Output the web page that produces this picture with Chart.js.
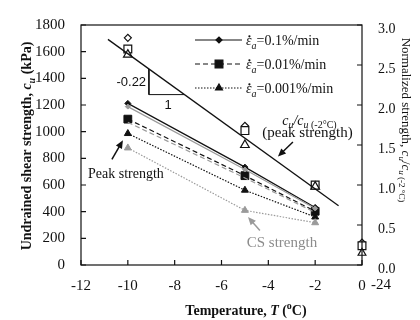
<!DOCTYPE html>
<html>
<head>
<meta charset="utf-8">
<script src="https://cdn.jsdelivr.net/npm/chart.js@4.4.0/dist/chart.umd.min.js"></script>
<style>
  html, body { margin: 0; padding: 0; background: #fff; }
  #wrap { width: 420px; height: 320px; }
</style>
</head>
<body>
<div id="wrap"><canvas id="chart"></canvas></div>
<script>
// --- Data ---
const temps = [-10, -5, -2];

// peak undrained strength cu (kPa), one list per strain rate
const peak01 = [1212, 734, 432];
const peak001 = [1094, 670, 403];
const peak0001 = [986, 561, 360];

// critical state strength (grey)
const cs01 = [1188, 716, 424];
const cs001 = [1070, 653, 394];
const cs0001 = [878, 410, 317];

// normalized peak strength cu / cu(-2C), right axis
const norm01 = [2.84, 1.74, 1.0];
const norm001 = [2.70, 1.68, 1.0];
const norm0001 = [2.63, 1.50, 0.98];

// -24C tests, drawn at the axis break on the right edge
const farTemp = [0];
const far01 = [0.28];
const far001 = [0.24];
const far0001 = [0.15];

// fitted line through normalized data + slope triangle
const trendT = [-10.85, -1.0];
const trendY = [2.82, 0.74];
const slopeT = [-9.1, -9.1, -7.6];
const slopeY = [2.45, 2.13, 2.13];

// tick labels
const xTicks = [-12, -10, -8, -6, -4, -2, 0];
const cuTicks = [0, 200, 400, 600, 800, 1000, 1200, 1400, 1600, 1800];
const normTicks = [0, 0.5, 1.0, 1.5, 2.0, 2.5, 3.0];

const SERIF = "'Liberation Serif', 'DejaVu Serif', serif";
const SANS = "'Liberation Sans', Arial, sans-serif";
const GREY = '#9a9a9a';

Chart.defaults.font.family = SERIF;
Chart.defaults.color = '#111';

const pts = (xs, ys) => xs.map((x, i) => ({ x: x, y: ys[i] }));

function lineSet(ys, color, dash, style, radius, fill) {
    return {
        data: pts(temps, ys),
        yAxisID: 'y',
        showLine: true,
        borderColor: color,
        borderWidth: 1.2,
        borderDash: dash,
        pointStyle: style,
        pointRadius: radius,
        pointBackgroundColor: fill,
        pointBorderColor: fill,
        pointBorderWidth: 1
    };
}

function openSet(xs, ys, style, radius) {
    return {
        data: pts(xs, ys),
        yAxisID: 'y1',
        showLine: false,
        pointStyle: style,
        pointRadius: radius,
        pointBackgroundColor: '#fff',
        pointBorderColor: '#111',
        pointBorderWidth: 1.2,
        clip: false
    };
}

// mixed italic / subscript text, y = baseline
// flags: i italic, b bold, s subscript, S superscript, d dot above
function rich(ctx, parts, x, y, size, align, color) {
    const fontOf = (f, sz) => `${f.includes('i') ? 'italic ' : ''}${f.includes('b') ? 'bold ' : ''}${sz}px ${SERIF}`;
    let w = 0;
    const items = parts.map(([t, f = '']) => {
        const sz = (f.includes('s') || f.includes('S')) ? Math.round(size * 0.68) : size;
        ctx.font = fontOf(f, sz);
        const wd = ctx.measureText(t).width;
        w += wd;
        return { t, f, sz, wd };
    });
    let cx = align === 'center' ? x - w / 2 : align === 'right' ? x - w : x;
    ctx.textAlign = 'left';
    ctx.textBaseline = 'alphabetic';
    ctx.fillStyle = color || '#111';
    items.forEach(it => {
        ctx.font = fontOf(it.f, it.sz);
        const dy = it.f.includes('s') ? size * 0.25 : it.f.includes('S') ? -size * 0.4 : 0;
        ctx.fillText(it.t, cx, y + dy);
        if (it.f.includes('d')) {
            ctx.beginPath();
            ctx.arc(cx + it.wd * 0.62, y - size * 0.62, 1.1, 0, Math.PI * 2);
            ctx.fill();
        }
        cx += it.wd;
    });
}

function arrow(ctx, x1, y1, x2, y2, color) {
    const a = Math.atan2(y2 - y1, x2 - x1);
    ctx.save();
    ctx.strokeStyle = color;
    ctx.fillStyle = color;
    ctx.lineWidth = 1.5;
    ctx.setLineDash([]);
    ctx.beginPath();
    ctx.moveTo(x1, y1);
    ctx.lineTo(x2 - 5 * Math.cos(a), y2 - 5 * Math.sin(a));
    ctx.stroke();
    ctx.beginPath();
    ctx.moveTo(x2, y2);
    ctx.lineTo(x2 - 8 * Math.cos(a) + 3.5 * Math.sin(a), y2 - 8 * Math.sin(a) - 3.5 * Math.cos(a));
    ctx.lineTo(x2 - 8 * Math.cos(a) - 3.5 * Math.sin(a), y2 - 8 * Math.sin(a) + 3.5 * Math.cos(a));
    ctx.closePath();
    ctx.fill();
    ctx.restore();
}

// frame, inward ticks, legend, notes and axis titles
const decor = {
    id: 'decor',
    afterDraw(chart) {
        const ctx = chart.ctx;
        const { left, right, top, bottom } = chart.chartArea;
        const sx = chart.scales.x, sy = chart.scales.y, sn = chart.scales.y1;
        ctx.save();

        ctx.strokeStyle = '#111';
        ctx.lineWidth = 1.2;
        ctx.setLineDash([]);
        ctx.strokeRect(left, top, right - left, bottom - top);

        ctx.beginPath();
        xTicks.forEach(v => {
            const px = sx.getPixelForValue(v);
            ctx.moveTo(px, bottom); ctx.lineTo(px, bottom - 5);
        });
        cuTicks.forEach(v => {
            const py = sy.getPixelForValue(v);
            ctx.moveTo(left, py); ctx.lineTo(left + 5, py);
        });
        normTicks.forEach(v => {
            const py = sn.getPixelForValue(v);
            ctx.moveTo(right, py); ctx.lineTo(right - 5, py);
        });
        ctx.stroke();

        // "-24" label at the axis break
        ctx.font = `15px ${SERIF}`;
        ctx.fillStyle = '#111';
        ctx.textAlign = 'center';
        ctx.textBaseline = 'middle';
        ctx.fillText('-24', right + 19, bottom + 20);

        // legend
        const rows = [
            { rate: '=0.1%/min', dash: [], style: 'rectRot', r: 3 },
            { rate: '=0.01%/min', dash: [5, 3], style: 'rect', r: 5.5 },
            { rate: '=0.001%/min', dash: [1.5, 1.5], style: 'triangle', r: 4 }
        ];
        rows.forEach((row, i) => {
            const y = top + 15 + i * 24;
            ctx.strokeStyle = '#111';
            ctx.lineWidth = 1.2;
            ctx.setLineDash(row.dash);
            ctx.beginPath();
            ctx.moveTo(195, y); ctx.lineTo(242, y);
            ctx.stroke();
            ctx.setLineDash([]);
            ctx.fillStyle = '#111';
            Chart.helpers.drawPoint(ctx, { pointStyle: row.style, radius: row.r, rotation: 0, borderWidth: 1 }, 219, y);
            rich(ctx, [['\u03b5', 'id'], ['a', 'is'], [row.rate, '']], 246, y + 5, 14, 'left');
        });

        // slope notes
        ctx.font = `13px ${SANS}`;
        ctx.fillStyle = '#111';
        ctx.textBaseline = 'middle';
        ctx.textAlign = 'right';
        ctx.fillText('-0.22', sx.getPixelForValue(-9.22), sy.getPixelForValue(1368));
        ctx.textAlign = 'center';
        ctx.fillText('1', sx.getPixelForValue(-8.28), sy.getPixelForValue(1195));

        // normalized strength note
        const nx = sx.getPixelForValue(-2.33);
        rich(ctx, [['c', 'i'], ['u', 'is'], ['/', 'i'], ['c', 'i'], ['u', 'is'], [' (-2\u00b0C)', 's']], nx + 2, sy.getPixelForValue(1058) + 1, 14, 'center');
        rich(ctx, [['(peak strength)', '']], nx, sy.getPixelForValue(979) + 3, 15, 'center');
        arrow(ctx, sx.getPixelForValue(-2.95), sy.getPixelForValue(922), sx.getPixelForValue(-3.59), sy.getPixelForValue(814), '#111');

        rich(ctx, [['Peak strength', '']], sx.getPixelForValue(-10.08), sy.getPixelForValue(691) + 5, 14, 'center');
        arrow(ctx, sx.getPixelForValue(-10.68), sy.getPixelForValue(792), sx.getPixelForValue(-10.21), sy.getPixelForValue(936), '#111');

        rich(ctx, [['CS strength', '']], sx.getPixelForValue(-3.42), sy.getPixelForValue(173) + 5, 15, 'center', '#8c8c8c');
        arrow(ctx, sx.getPixelForValue(-4.36), sy.getPixelForValue(259), sx.getPixelForValue(-4.87), sy.getPixelForValue(360), GREY);

        // axis titles
        rich(ctx, [['Temperature, ', 'b'], ['T', 'bi'], [' (', 'b'], ['o', 'bS'], ['C)', 'b']], 246, 315, 14, 'center');

        ctx.save();
        ctx.translate(26, 146);
        ctx.rotate(-Math.PI / 2);
        rich(ctx, [['Undrained shear strength, ', 'b'], ['c', 'bi'], ['u', 'bis'], [' (kPa)', 'b']], 0, 5, 14, 'center');
        ctx.restore();

        ctx.save();
        ctx.translate(407, 120);
        ctx.rotate(Math.PI / 2);
        rich(ctx, [['Normalized strength, ', ''], ['c', 'i'], ['u', 'is'], ['/', ''], ['c', 'i'], ['u', 'is'], [' (-2 \u00b0C)', 's']], 0, 5, 13, 'center');
        ctx.restore();

        ctx.restore();
    }
};

const datasets = [
    lineSet(cs01, GREY, [], 'rectRot', 2.5, GREY),
    lineSet(cs001, GREY, [5, 3], 'rect', 0, GREY),
    lineSet(cs0001, GREY, [1.5, 1.5], 'triangle', 4, GREY),
    lineSet(peak01, '#111', [], 'rectRot', 3, '#111'),
    lineSet(peak001, '#111', [5, 3], 'rect', 5.5, '#111'),
    lineSet(peak0001, '#111', [1.5, 1.5], 'triangle', 4, '#111'),
    {
        data: pts(trendT, trendY), yAxisID: 'y1', showLine: true,
        borderColor: '#111', borderWidth: 1.3, pointRadius: 0
    },
    {
        data: pts(slopeT, slopeY), yAxisID: 'y1', showLine: true,
        borderColor: '#111', borderWidth: 1, pointRadius: 0
    },
    openSet(temps, norm0001, 'triangle', 5),
    openSet(temps, norm001, 'rect', 5.5),
    openSet(temps, norm01, 'rectRot', 3.5),
    openSet(farTemp, far0001, 'triangle', 4.5),
    openSet(farTemp, far001, 'rect', 5.5),
    openSet(farTemp, far01, 'rectRot', 3.5)
];

const hideGrid = { display: false, drawTicks: false };

new Chart(document.getElementById('chart'), {
    type: 'scatter',
    data: { datasets: datasets },
    options: {
        responsive: true,
        maintainAspectRatio: false,
        animation: false,
        layout: { padding: { top: 15, left: 0, right: 0, bottom: 0 } },
        plugins: { legend: { display: false }, tooltip: { enabled: false } },
        scales: {
            x: {
                type: 'linear', min: -12, max: 0,
                afterBuildTicks: s => { s.ticks = xTicks.map(v => ({ value: v })); },
                afterFit: s => { s.height = 55; },
                grid: hideGrid, border: { display: false },
                ticks: { padding: 12, font: { size: 15 }, color: '#111', callback: v => String(v) }
            },
            y: {
                position: 'left', min: 0, max: 1800,
                afterBuildTicks: s => { s.ticks = cuTicks.map(v => ({ value: v })); },
                afterFit: s => { s.width = 81; },
                grid: hideGrid, border: { display: false },
                ticks: { padding: 16, font: { size: 15 }, color: '#111', callback: v => String(v) }
            },
            y1: {
                position: 'right', min: 0, max: 3,
                afterBuildTicks: s => { s.ticks = normTicks.map(v => ({ value: v })); },
                afterFit: s => { s.width = 58; },
                grid: hideGrid, border: { display: false },
                ticks: { padding: 16, labelOffset: 4, font: { size: 14 }, color: '#111', callback: v => v.toFixed(1) }
            }
        }
    },
    plugins: [decor]
});
</script>
</body>
</html>
